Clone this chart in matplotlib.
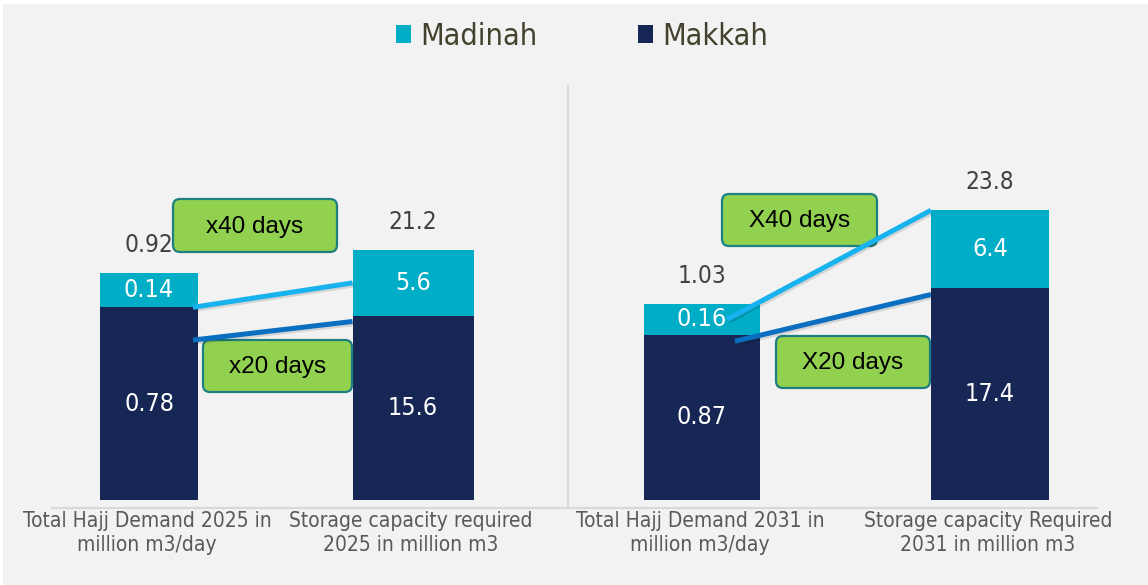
import matplotlib
matplotlib.use("Agg")
import matplotlib.pyplot as plt
from matplotlib import font_manager
from matplotlib.patches import ConnectionPatch, FancyBboxPatch, Patch, Rectangle
import matplotlib.patheffects as pe

# ---------------------------------------------------------------------------
# Data
# ---------------------------------------------------------------------------
categories = [
    "Total Hajj Demand 2025 in\nmillion m3/day",
    "Storage capacity required\n2025 in million m3",
    "Total Hajj Demand 2031 in\nmillion m3/day",
    "Storage capacity Required\n2031 in million m3",
]
makkah = [0.78, 15.6, 0.87, 17.4]
madinah = [0.14, 5.6, 0.16, 6.4]
totals = [0.92, 21.2, 1.03, 23.8]
multipliers = ["x40 days", "x20 days", "X40 days", "X20 days"]

# ---------------------------------------------------------------------------
# Layout / style
# ---------------------------------------------------------------------------
W, H = 1148, 585
XPOS = [149, 413, 702, 990]          # bar centres (pixel-like x units)
WIDTHS = [98, 121, 116, 118]
YMAX = [1.70, 35.6, 2.21, 34.5]      # every bar gets its own y scale
C_MAK = "#172755"
C_MAD = "#00adc6"
C_LIGHT = "#18b2ee"
C_DARK = "#0a6fc0"
C_GRID = "#d9d9d9"

names = {f.name for f in font_manager.fontManager.ttflist}
NARROW = "Liberation Sans Narrow" if "Liberation Sans Narrow" in names else "DejaVu Sans"
STRETCH = "normal" if NARROW == "Liberation Sans Narrow" else "condensed"

fig = plt.figure(figsize=(W / 100, H / 100), dpi=100, facecolor="white")
fig.add_artist(Rectangle((3 / W, 0), 1, (H - 4) / H, transform=fig.transFigure,
                         facecolor="#f2f2f2", edgecolor="none", zorder=-1))

# one axes per bar, all sharing the same x range
base = fig.add_axes([0, (H - 500) / H, 1, 420 / H])
axes = [base] + [base.twinx() for _ in range(3)]
for i, ax in enumerate(axes):
    ax.set_xlim(0, W)
    ax.set_ylim(0, YMAX[i])
    ax.set_facecolor("none")
    ax.axis("off")
    ax.bar(XPOS[i], makkah[i], width=WIDTHS[i], color=C_MAK)
    ax.bar(XPOS[i], madinah[i], width=WIDTHS[i], bottom=makkah[i], color=C_MAD)
    ax.text(XPOS[i], makkah[i] / 2, f"{makkah[i]:g}", ha="center", va="center",
            color="white", fontsize=18, family=NARROW, stretch=STRETCH)
    ax.text(XPOS[i], makkah[i] + madinah[i] / 2, f"{madinah[i]:g}", ha="center",
            va="center", color="white", fontsize=18, family=NARROW, stretch=STRETCH)
    ax.annotate(f"{totals[i]:g}", (XPOS[i], totals[i]), xytext=(0, 20),
                textcoords="offset points", ha="center", va="center",
                color="#404040", fontsize=17.5, family=NARROW, stretch=STRETCH)

# overlay in pixel units for separators, boxes and axis labels
ov = fig.add_axes([0, 0, 1, 1], zorder=3)
ov.set_xlim(0, W)
ov.set_ylim(H, 0)
ov.axis("off")
ov.set_facecolor("none")
ov.plot([51, 1098], [508, 508], color=C_GRID, lw=1.6, solid_capstyle="butt")
ov.plot([568, 568], [85, 508], color=C_GRID, lw=1.6, solid_capstyle="butt")

for x, lab in zip(XPOS, categories):
    ov.text(x - 2, 533, lab, ha="center", va="center", color="#595959",
            fontsize=15, family=NARROW, stretch=STRETCH, linespacing=1.3)

boxes = [(173, 199, 164, 53), (203, 340, 149, 52), (722, 194, 155, 52), (776, 336, 154, 52)]
for (x0, y0, bw, bh), txt in zip(boxes, multipliers):
    ov.add_patch(FancyBboxPatch((x0, y0), bw, bh, boxstyle="round,pad=0,rounding_size=7",
                                facecolor="#92d050", edgecolor="#1d7f80", lw=1.6))
    ov.text(x0 + bw / 2, y0 + bh / 2 + 1, txt, ha="center", va="center",
            color="black", fontsize=17.5, family="Liberation Sans")


# connector lines between demand and storage bars
def connect(ia, ya, ib, yb, color, dxa=-5):
    xa = XPOS[ia] + WIDTHS[ia] / 2 + dxa
    xb = XPOS[ib] - WIDTHS[ib] / 2
    con = ConnectionPatch((xa, ya), (xb, yb), coordsA=axes[ia].transData,
                          coordsB=axes[ib].transData, color=color, lw=3.6,
                          capstyle="butt", zorder=10)
    con.set_path_effects([pe.SimpleLineShadow(offset=(1, -1.5), alpha=0.12),
                          pe.Normal()])
    fig.add_artist(con)


connect(0, makkah[0], 1, makkah[1] + madinah[1] / 2, C_LIGHT)
connect(0, makkah[0] * 0.83, 1, makkah[1] * 0.97, C_DARK)
connect(2, makkah[2] + madinah[2] / 2, 3, totals[3], C_LIGHT, dxa=-33)
connect(2, makkah[2] * 0.96, 3, makkah[3] * 0.97, C_DARK, dxa=-25)

handles = [Patch(facecolor=C_MAD), Patch(facecolor=C_MAK)]
fig.legend(handles, ["Madinah", "Makkah"], loc="center", bbox_to_anchor=(0.507, 0.938),
           ncol=2, frameon=False, handlelength=0.5, handleheight=0.5,
           handletextpad=0.3, columnspacing=3.3,
           prop={"family": NARROW, "size": 22, "stretch": STRETCH},
           labelcolor="#44412e")

fig.savefig("out.png", dpi=100, facecolor=fig.get_facecolor())
